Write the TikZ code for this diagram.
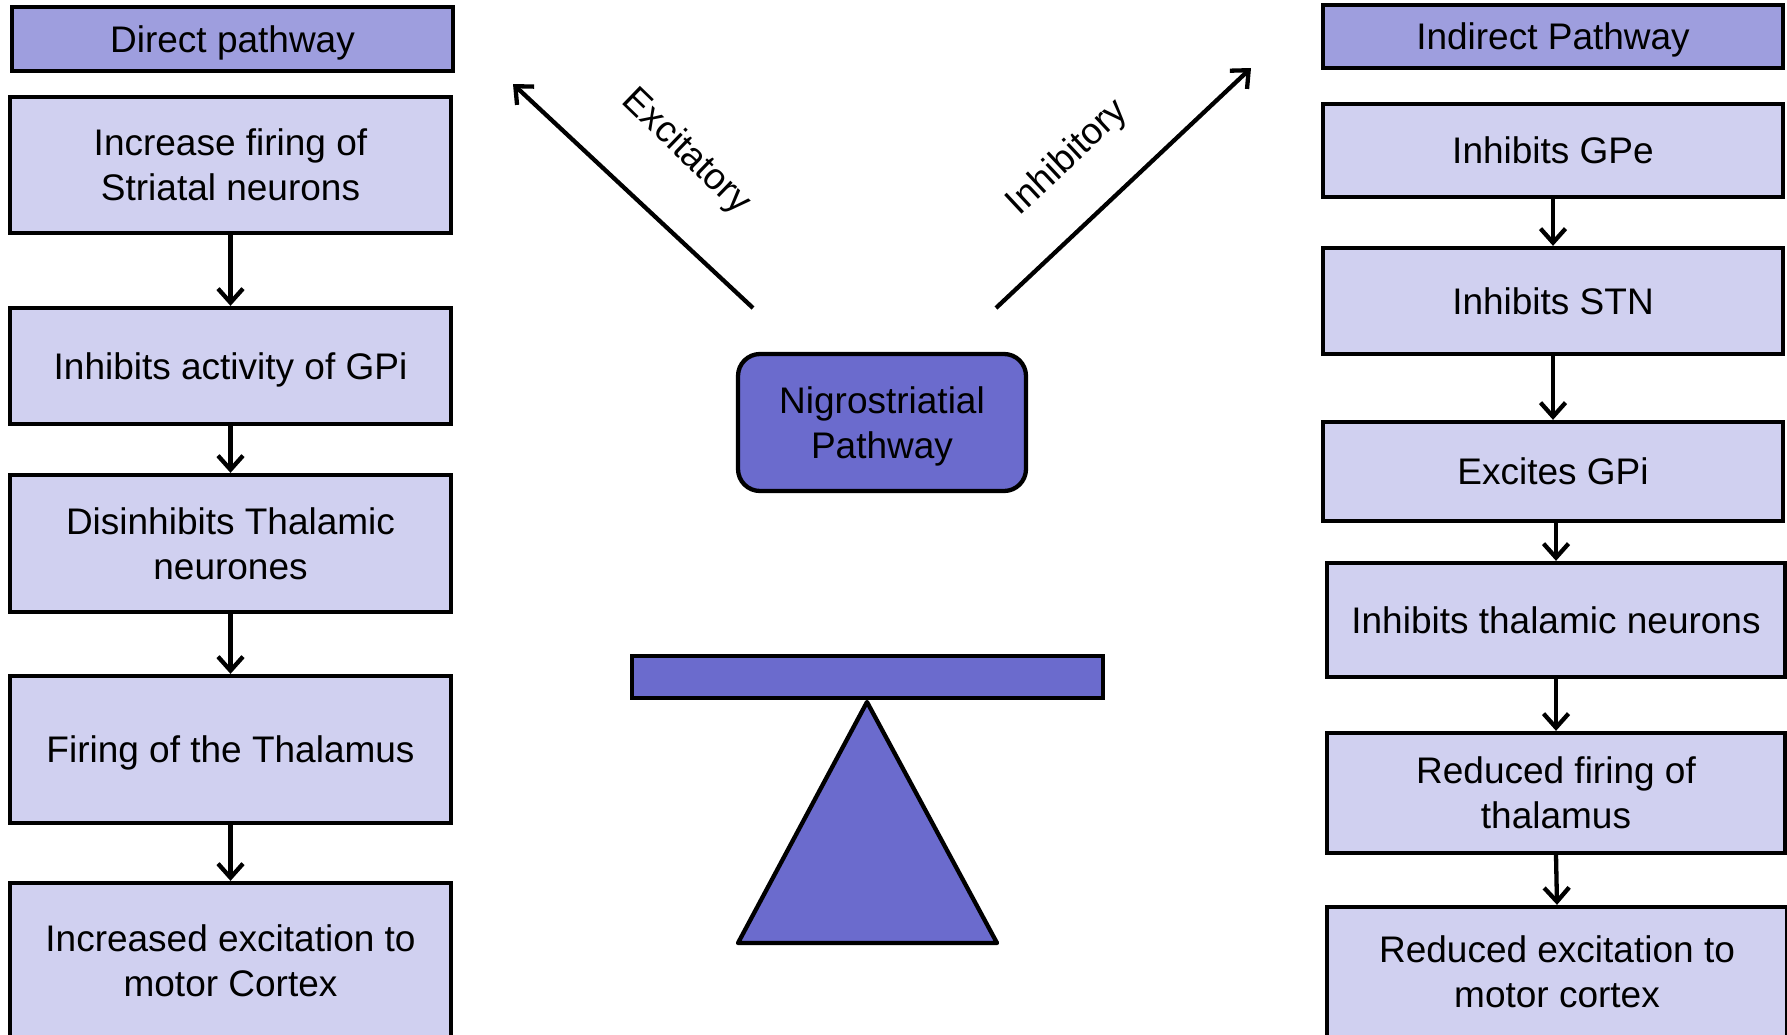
\documentclass[tikz,border=0pt]{standalone}
\usepackage{fontspec}
\setmainfont{Liberation Sans}
\usetikzlibrary{arrows.meta,positioning}
\definecolor{hdrfill}{RGB}{158,158,222}
\definecolor{boxfill}{RGB}{208,208,240}
\definecolor{ctrfill}{RGB}{107,107,205}
\tikzset{
  base/.style={draw=black, line width=4.3pt, align=center, inner sep=0pt,
    text depth=0pt, font=\fontsize{37}{45}\selectfont},
  hdr/.style={base, fill=hdrfill},
  stepbox/.style={base, fill=boxfill},
  conn/.style={line width=4.3pt, -{Straight Barb[length=14pt,width=25pt]}},
  lbl/.style={font=\fontsize{37}{45}\selectfont, inner sep=0pt}
}
\begin{document}
\begin{tikzpicture}[x=1pt,y=-1pt]
\useasboundingbox (0,0) rectangle (1787,1034);
\clip (0,0) rectangle (1787,1034);
% left column
\node[hdr, minimum width=441pt, minimum height=64pt] (hL) at (232.5,39) {Direct pathway};
\node[stepbox, minimum width=441pt, minimum height=136pt] (L1) at (230.5,165) {Increase firing of\\Striatal neurons};
\node[stepbox, minimum width=441pt, minimum height=116pt] (L2) at (230.5,366) {Inhibits activity of GPi};
\node[stepbox, minimum width=441pt, minimum height=137pt] (L3) at (230.5,543.5) {Disinhibits Thalamic\\neurones};
\node[stepbox, minimum width=441pt, minimum height=147pt] (L4) at (230.5,749.5) {Firing of the Thalamus};
\node[stepbox, minimum width=441pt, minimum height=156pt] (L5) at (230.5,961) {Increased excitation to\\motor Cortex};
\draw[conn] (L1.south) -- (L2.north);
\draw[conn] (L2.south) -- (L3.north);
\draw[conn] (L3.south) -- (L4.north);
\draw[conn] (L4.south) -- (L5.north);
% right column
\node[hdr, minimum width=460pt, minimum height=63pt] (hR) at (1553,36.5) {Indirect Pathway};
\node[stepbox, minimum width=460pt, minimum height=93pt] (R1) at (1553,150.5) {Inhibits GPe};
\node[stepbox, minimum width=460pt, minimum height=106pt] (R2) at (1553,301) {Inhibits STN};
\node[stepbox, minimum width=460pt, minimum height=99pt] (R3) at (1553,471.5) {Excites GPi};
\node[stepbox, minimum width=458pt, minimum height=114pt] (R4) at (1556,620) {Inhibits thalamic neurons};
\node[stepbox, minimum width=458pt, minimum height=120pt] (R5) at (1556,793) {Reduced firing of\\thalamus};
\node[stepbox, minimum width=460pt, minimum height=130pt] (R6) at (1557,972) {Reduced excitation to\\motor cortex};
\draw[conn] (R1.south) -- (R2.north);
\draw[conn] (R2.south) -- (R3.north);
\draw[conn] (R4.north |- R3.south) -- (R4.north);
\draw[conn] (R4.south) -- (R5.north);
\draw[conn] (R5.south) -- (R6.north);
% centre
\node[base, fill=ctrfill, rounded corners=22pt, minimum width=288pt, minimum height=137pt] (ctr) at (882,422.5) {Nigrostriatial\\Pathway};
\coordinate (exS) at (753,308);
\coordinate (exE) at (513,84);
\coordinate (inS) at (996,308);
\coordinate (inE) at (1251,68);
\draw[conn] (exS) -- (exE);
\draw[conn] (inS) -- (inE);
\node[lbl, rotate=-44] (exL) at (686,152) {Excitatory};
\node[lbl, rotate=43] (inL) at (1068,158) {Inhibitory};
% seesaw
\node[draw=black, line width=4.3pt, fill=ctrfill, minimum width=471pt, minimum height=42pt, inner sep=0pt] (beam) at (867.5,677) {};
\coordinate (apex) at (867,702);
\coordinate (bl) at (738,943);
\coordinate (br) at (997,943);
\draw[line width=4.3pt, fill=ctrfill, line join=round] (apex) -- (br) -- (bl) -- cycle;
\end{tikzpicture}
\end{document}
